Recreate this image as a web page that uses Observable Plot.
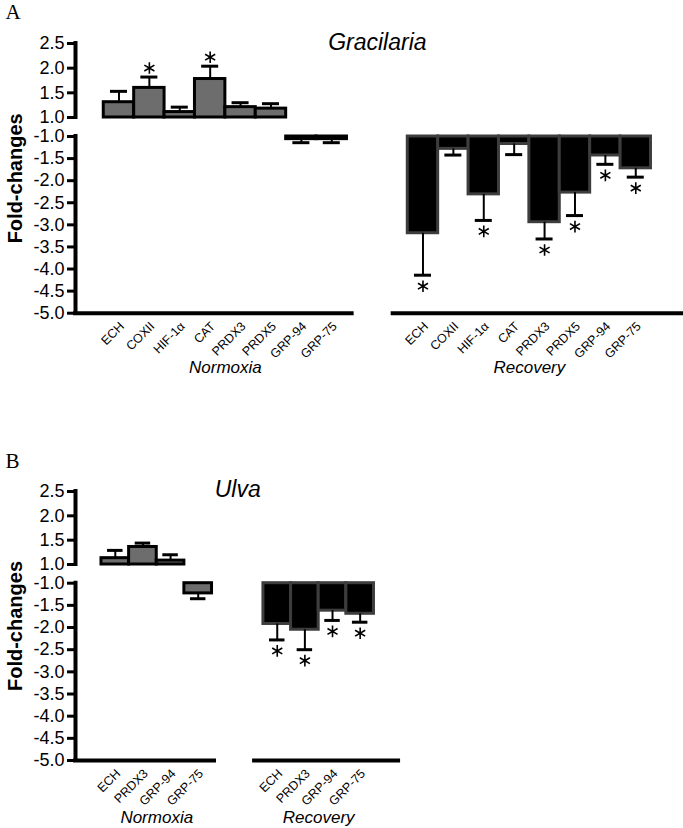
<!DOCTYPE html>
<html>
<head>
<meta charset="utf-8">
<script src="https://cdn.jsdelivr.net/npm/d3@7"></script>
<script src="https://cdn.jsdelivr.net/npm/@observablehq/plot@0.6"></script>
<style>
  body { margin: 0; background: #fff; }
  svg { display: block; }
</style>
</head>
<body>
<div id="chart"></div>
<script>
// ---------- DATA ----------
const yTicks = [2.5, 2.0, 1.5, 1.0, -1.0, -1.5, -2.0, -2.5, -3.0, -3.5, -4.0, -4.5, -5.0];

// Panel A: Gracilaria
const gracGenes = ["ECH", "COXII", "HIF-1α", "CAT", "PRDX3", "PRDX5", "GRP-94", "GRP-75"];
const gracNormoxia    = [1.31, 1.60, 1.11, 1.78, 1.21, 1.18, -1.06, -1.06];
const gracNormoxiaErr = [1.53, 1.82, 1.21, 2.04, 1.30, 1.28, -1.14, -1.14];
const gracNormoxiaSig = [false, true, false, true, false, false, false, false];
const gracRecovery    = [-3.19, -1.28, -2.31, -1.17, -2.94, -2.27, -1.43, -1.72];
const gracRecoveryErr = [-4.14, -1.42, -2.90, -1.41, -3.32, -2.79, -1.63, -1.92];
const gracRecoverySig = [true, false, true, false, true, true, true, true];

// Panel B: Ulva
const ulvaGenes = ["ECH", "PRDX3", "GRP-94", "GRP-75"];
const ulvaNormoxia    = [1.13, 1.36, 1.08, -1.23];
const ulvaNormoxiaErr = [1.29, 1.44, 1.20, -1.35];
const ulvaNormoxiaSig = [false, false, false, false];
const ulvaRecovery    = [-1.92, -2.05, -1.62, -1.69];
const ulvaRecoveryErr = [-2.28, -2.50, -1.84, -1.88];
const ulvaRecoverySig = [true, true, true, true];

const groupNames = ["Normoxia", "Recovery"];

// ---------- PANEL BUILDER ----------
function panel(c) {
  const n = c.genes.length;
  const groups = [
    {name: groupNames[0], values: c.norm, errs: c.normErr, sig: c.normSig, start: c.layout.normStart, axis: c.layout.axisLeft},
    {name: groupNames[1], values: c.rec, errs: c.recErr, sig: c.recSig, start: c.layout.recStart, axis: c.layout.axisRight}
  ];
  const rows = [];
  groups.forEach(g => c.genes.forEach((gene, i) => rows.push({
    group: g.name, gene, value: g.values[i], err: g.errs[i], sig: g.sig[i],
    x1: g.start + i, x2: g.start + i + 1, xc: g.start + i + 0.5,
    base: g.values[i] > 0 ? 1 : -1
  })));
  const L = c.layout;
  const H = L.height;
  const mt = L.yRange[3], mb = H - L.yRange[0];
  const titleX = (L.normStart + n + L.recStart) / 2;
  const sans = "'Liberation Sans', Arial, Helvetica, sans-serif";

  return Plot.plot({
    width: 683, height: H,
    marginLeft: 75, marginRight: 0, marginTop: mt, marginBottom: mb,
    style: {fontFamily: sans, color: "black", background: "white", overflow: "visible"},
    x: {type: "linear", domain: L.xDomain, axis: null},
    y: {type: "linear", domain: [-5, -1, 1, 2.5], range: L.yRange},
    marks: [
      // bars
      Plot.rect(rows, {
        x1: "x1", x2: "x2", y1: "base", y2: "value",
        fill: d => d.group === groupNames[0] ? "#6d6d6d" : "#000000",
        stroke: d => d.group === groupNames[0] ? "#000000" : "#3d3d3d",
        strokeWidth: 3
      }),
      // error bars (one-sided)
      Plot.ruleX(rows, {x: "xc", y1: "value", y2: "err", stroke: "black", strokeWidth: 2}),
      Plot.ruleY(rows, {y: "err", x1: d => d.xc - 0.28, x2: d => d.xc + 0.28, stroke: "black", strokeWidth: 3}),
      // significance asterisks
      Plot.dot(rows.filter(d => d.sig && d.value > 0), {x: "xc", y: "err", symbol: "asterisk", r: 5.5, stroke: "black", strokeWidth: 1.6, dy: -9}),
      Plot.dot(rows.filter(d => d.sig && d.value < 0), {x: "xc", y: "err", symbol: "asterisk", r: 5.5, stroke: "black", strokeWidth: 1.6, dy: 11}),
      // broken y axis line
      Plot.ruleX([[1, 2.5], [-5, -1]], {x: () => L.xDomain[0], y1: d => d[0], y2: d => d[1], stroke: "black", strokeWidth: 4, strokeLinecap: "square"}),
      // split x axis lines
      Plot.ruleY(groups, {y: () => -5, x1: g => g.axis[0], x2: g => g.axis[1], stroke: "black", strokeWidth: 4, strokeLinecap: "square"}),
      // y ticks
      Plot.axisY(yTicks, {tickSize: 8, tickPadding: 3, strokeWidth: 3, fontSize: 18, tickFormat: d => d.toFixed(1), label: null}),
      // x tick labels
      Plot.text(rows, {x: "xc", y: () => -5, text: "gene", rotate: -45, textAnchor: "end", lineAnchor: "middle", dx: 3, dy: 11, fontSize: 12.5, fill: "black"}),
      // group labels
      Plot.text(groups, {x: g => g.start + n / 2, y: () => -5, text: "name", dy: L.groupDy, lineAnchor: "bottom", fontSize: 17, fontStyle: "italic", fill: "black"}),
      // title
      Plot.text([c.title], {x: () => titleX, y: () => 2.5, text: d => d, dy: L.titleDy, lineAnchor: "bottom", fontSize: 23, fontStyle: "italic", fill: "black"}),
      // panel letter
      Plot.text([c.letter], {frameAnchor: "top-left", text: d => d, dx: 5 - 75, dy: L.letterDy, textAnchor: "start", lineAnchor: "bottom", fontSize: 21, fontFamily: "'Liberation Serif', 'Times New Roman', serif", fill: "black"}),
      // y label
      Plot.text(["Fold-changes"], {frameAnchor: "left", text: d => d, dx: -60, rotate: -90, textAnchor: "middle", lineAnchor: "middle", fontSize: 20, fontWeight: "bold", fill: "black"})
    ]
  });
}

const chart = document.getElementById("chart");
chart.append(panel({
  title: "Gracilaria", letter: "A", genes: gracGenes,
  norm: gracNormoxia, normErr: gracNormoxiaErr, normSig: gracNormoxiaSig,
  rec: gracRecovery, recErr: gracRecoveryErr, recSig: gracRecoverySig,
  layout: {height: 414, xDomain: [0, 20], yRange: [312.7, 136, 117, 43],
           normStart: 0.93, recStart: 10.93, axisLeft: [0, 9.1], axisRight: [10.45, 20],
           groupDy: 60, titleDy: 6, letterDy: -25}
}));
chart.append(panel({
  title: "Ulva", letter: "B", genes: ulvaGenes,
  norm: ulvaNormoxia, normErr: ulvaNormoxiaErr, normSig: ulvaNormoxiaSig,
  rec: ulvaRecovery, recErr: ulvaRecoveryErr, recSig: ulvaRecoverySig,
  layout: {height: 414, xDomain: [0, 22], yRange: [346, 168.7, 150, 77],
           normStart: 0.94, recStart: 6.8, axisLeft: [0, 5.03], axisRight: [6.48, 11.69],
           groupDy: 62, titleDy: 5, letterDy: -24}
}));
</script>
</body>
</html>
